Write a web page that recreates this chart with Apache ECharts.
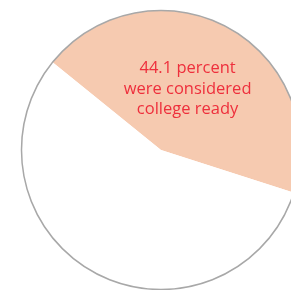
<!DOCTYPE html>
<html>
<head>
<meta charset="utf-8">
<script src="https://cdn.jsdelivr.net/npm/echarts@6/dist/echarts.min.js"></script>
<style>
  html,body{margin:0;padding:0;background:#fff;}
  #main{width:291px;height:290px;}
</style>
</head>
<body>
<div id="main"></div>
<script>
// slice names and values (percent)
var names = ['college ready', 'not college ready'];
var values = [44.1, 55.9];
var labelText = ['44.1 percent', 'were considered', 'college ready'];

var myChart = echarts.init(document.getElementById('main'));
var option = {
    animation: false,
    series: [
        {
            type: 'pie',
            center: [161, 150],
            radius: 139.5,
            startAngle: 141,
            clockwise: true,
            silent: true,
            label: {
                position: 'inside',
                color: '#ee2f3c',
                fontFamily: 'Open Sans',
                fontSize: 16.5,
                lineHeight: 20.5,
                align: 'center',
                offset: [-8, 3],
                formatter: function (p) {
                    return p.dataIndex === 0 ? labelText.join('\n') : '';
                }
            },
            labelLine: {show: false},
            itemStyle: {borderWidth: 0},
            data: [
                {name: names[0], value: values[0], itemStyle: {color: '#f6cab0'}},
                {name: names[1], value: values[1], itemStyle: {color: '#ffffff'}}
            ]
        },
        {
            // outer ring outline
            type: 'pie',
            center: [161, 150],
            radius: 139.5,
            silent: true,
            label: {show: false},
            labelLine: {show: false},
            itemStyle: {color: 'rgba(0,0,0,0)', borderColor: '#a8a8a8', borderWidth: 1.5},
            data: [{name: 'outline', value: 1}]
        }
    ]
};
myChart.setOption(option);
</script>
</body>
</html>
